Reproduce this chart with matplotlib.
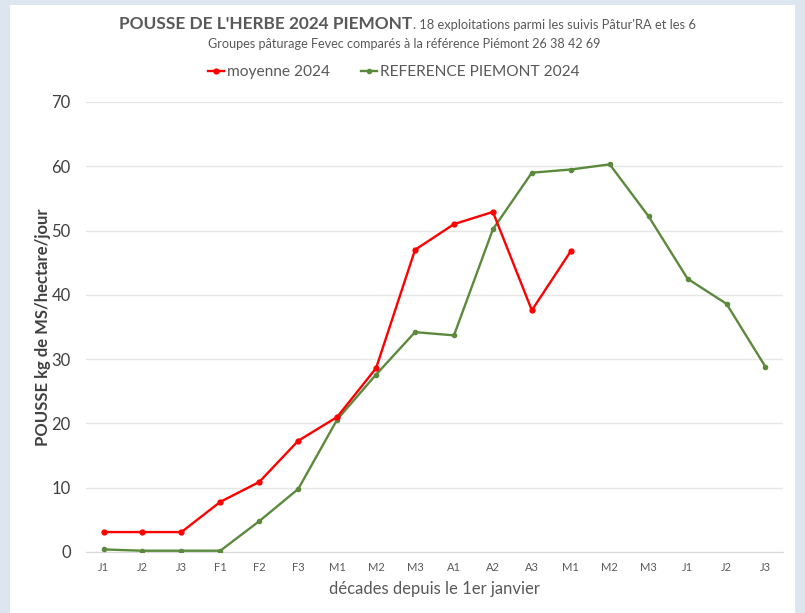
import matplotlib
matplotlib.use("Agg")
import matplotlib.pyplot as plt
from matplotlib.patches import Rectangle
from matplotlib.lines import Line2D

categories = ["J1", "J2", "J3", "F1", "F2", "F3", "M1", "M2", "M3", "A1", "A2", "A3",
              "M1", "M2", "M3", "J1", "J2", "J3"]
moyenne_2024 = [3.1, 3.1, 3.1, 7.8, 10.9, 17.3, 21.0, 28.6, 47.0, 51.0, 52.9, 37.6, 46.8]
reference_2024 = [0.4, 0.2, 0.2, 0.2, 4.8, 9.8, 20.6, 27.6, 34.2, 33.7, 50.2, 59.0, 59.5,
                  60.3, 52.2, 42.5, 38.6, 28.8]
yticks = [0, 10, 20, 30, 40, 50, 60, 70]

plt.rcParams["font.family"] = ["Lato", "DejaVu Sans"]

fig = plt.figure(figsize=(8.05, 6.13), dpi=100)
fig.patch.set_facecolor("#dde5ef")
bg = Rectangle((10 / 805, 0), 785 / 805, 1 - 5 / 613, transform=fig.transFigure,
               facecolor="white", edgecolor="none", zorder=-10)
fig.add_artist(bg)

ax = fig.add_axes([86 / 805, 1 - 552 / 613, (783 - 86) / 805, (552 - 102) / 613])
ax.set_facecolor("none")
ax.set_zorder(1)

red = "#ff0000"
green = "#5b8a3c"
xr = list(range(len(moyenne_2024)))
xg = list(range(len(reference_2024)))
ax.plot(xg, reference_2024, color=green, lw=1.7, marker="o", ms=3, zorder=3)
ax.plot(xr, moyenne_2024, color=red, lw=1.7, marker="o", ms=3.5, zorder=4)

ax.set_ylim(0, 70)
ax.set_xlim(-0.45, len(categories) - 0.55)
ax.set_yticks(yticks)
ax.set_yticklabels([str(v) for v in yticks], fontsize=12, color="#404040")
ax.set_xticks(range(len(categories)))
ax.set_xticklabels(categories, fontsize=8, color="#595959")
ax.grid(axis="y", color="#e6e6e6", lw=1)
ax.set_axisbelow(True)
for s in ["top", "right", "left"]:
    ax.spines[s].set_visible(False)
ax.spines["bottom"].set_color("#d9d9d9")
ax.tick_params(axis="both", length=0)
ax.tick_params(axis="y", pad=11)
ax.tick_params(axis="x", pad=7)

ax.set_ylabel("POUSSE kg de MS/hectare/jour", fontsize=12, color="#404040",
              fontweight="bold", labelpad=0)
ax.set_xlabel("décades depuis le 1er janvier", fontsize=12, color="#595959", labelpad=6)

fig.text(412 / 805, 1 - 29 / 613, "POUSSE DE L'HERBE 2024 PIEMONT", fontsize=12.4,
         fontweight="bold", color="#595959", ha="right", va="baseline")
fig.text(413 / 805, 1 - 29 / 613, ". 18 exploitations parmi les suivis Pâtur'RA et les 6",
         fontsize=9.3, color="#595959", ha="left", va="baseline")
fig.text(404 / 805, 1 - 44 / 613,
         "Groupes pâturage Fevec comparés à la référence Piémont 26 38 42 69",
         fontsize=9.1, color="#595959", ha="center", va="center")

handles = [Line2D([], [], color=red, lw=1.7, marker="o", ms=3.5),
           Line2D([], [], color=green, lw=1.7, marker="o", ms=3)]
fig.legend(handles, ["moyenne 2024", "REFERENCE PIEMONT 2024"], loc="center",
           bbox_to_anchor=(394 / 805, 1 - 72 / 613), ncol=2, frameon=False,
           fontsize=11.2, handlelength=1.0, handletextpad=0.2, columnspacing=2.0,
           labelcolor="#595959")

fig.savefig("out.png", dpi=100, facecolor=fig.get_facecolor())
